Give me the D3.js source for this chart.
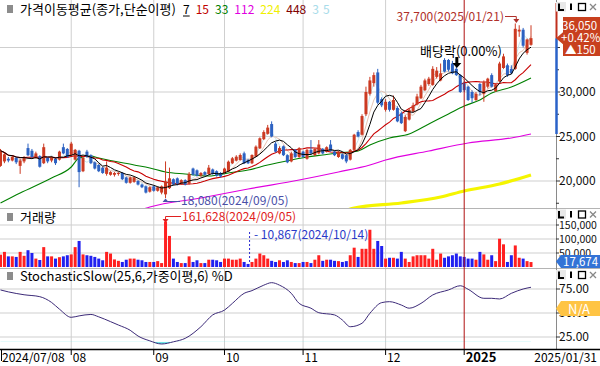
<!DOCTYPE html>
<html><head><meta charset="utf-8">
<script src="https://cdn.jsdelivr.net/npm/d3@7/dist/d3.min.js"></script>
<style>
html,body{margin:0;padding:0;background:#fff;overflow:hidden}
svg{display:block}
text{font-family:"Noto Sans CJK KR","Noto Sans",sans-serif}
</style></head><body>
<svg id="chart" width="600" height="366"></svg>
<script>
// ---------- DATA ----------
const jul=[8,9,10,11,12,15,16,17,18,19,22,23,24,25,26,29,30,31];
const aug=[1,2,5,6,7,8,9,12,13,14,16,19,20,21,22,23,26,27,28,29,30];
const sep=[2,3,4,5,6,9,10,11,12,13,19,20,23,24,25,26,27,30];
const oct=[2,4,7,8,10,11,14,15,16,17,18,21,22,23,24,25,28,29,30,31];
const nov=[1,4,5,6,7,8,11,12,13,14,15,18,19,20,21,22,25,26,27,28,29];
const dec=[2,3,4,5,6,9,10,11,12,13,16,17,18,19,20,23,24,26,27,30];
const jan=[2,3,6,7,8,9,10,13,14,15,16,17,20,21,22,23,24,31];
const monthList=[["2024","07",jul],["2024","08",aug],["2024","09",sep],["2024","10",oct],["2024","11",nov],["2024","12",dec],["2025","01",jan]];

const open=[21700,22200,22500,22300,22600,21700,22200,23700,23400,22700,22800,22000,22600,22300,22500,22400,23800,23600,
22900,22400,23400,21100,23300,22900,22100,21800,21500,20800,20700,20700,20800,20900,20400,19800,19900,20000,19600,19400,18800,
19400,18900,18700,18500,19200,20200,20300,19700,20100,19700,21400,21200,20600,21000,20800,21300,21100,20900,
20900,21050,21990,22290,22360,23110,22360,21990,22730,23670,24700,25300,26400,24200,23100,23900,22900,22200,23500,22700,
23300,22500,23500,22900,23100,23600,23300,24100,23300,22700,23000,22900,22400,23500,25500,25200,27500,29800,31000,32200,29200,
28000,28900,28000,28200,27600,25600,26900,27800,28600,29300,30200,30900,30800,31700,31300,33600,33600,33200,32600,31900,
31000,30600,30000,29100,30900,29800,30600,31900,30100,31200,32700,33000,32600,32600,36800,37000,34400,35300];
const high=[23600,23200,22700,22800,22700,22500,22800,24200,23600,23300,22900,24200,22700,22800,22600,23400,24200,23700,
24400,23600,23500,22800,23500,23000,22200,21900,21600,22200,21100,21000,21000,21000,20500,20500,20500,20100,19700,19500,19400,
19500,19400,19500,22200,21500,20300,20400,20200,20200,21000,21500,21300,21000,21100,21800,21400,21200,21000,
21500,22300,22700,22900,23100,23300,22500,23000,24000,24900,25700,26300,26700,24400,23900,24000,23000,23300,23600,23800,
23400,23600,24600,23700,24600,23700,23900,24600,23400,23400,23100,23000,23600,25300,25700,27500,30600,31700,32200,32600,29400,
29200,29000,29600,28400,27800,27400,28200,28800,29800,30800,31500,31700,32900,32800,33200,33800,33700,33500,32800,32000,
31200,30700,30200,30000,31000,31300,31600,32100,31000,33400,34300,33200,33000,37700,37500,37200,36000,37500];
const low=[21600,22000,22100,22200,21900,20800,22000,22800,22600,22500,21500,21900,22000,22100,21800,22300,23000,22600,
22800,22300,19300,21000,22600,21900,21300,21000,20800,20600,20600,20500,20600,20100,19700,19700,19800,19500,19200,18600,18700,
18800,18800,18500,18080,19100,19500,19500,19600,19500,19600,20600,20500,20500,20600,20700,20700,20500,20400,
20800,21000,21900,22200,22300,21900,21900,21900,22700,23600,24600,25200,24900,23200,23000,22800,22000,22100,22600,22600,
22600,22400,23000,22800,23000,23000,23200,23300,22800,22600,22400,22000,22300,23400,24900,25100,27300,29600,30600,28600,28300,
27800,27800,27900,26600,26400,25500,26800,27700,28500,29200,30100,30700,30700,31500,31200,32200,32300,32000,31800,29900,
30000,29000,28800,29000,29600,28900,30400,30500,30000,31100,32600,31700,32000,32500,36200,35000,34200,35200];
const close=[23400,23000,22300,22700,22100,22300,22600,22900,22700,23100,21600,23800,22200,22700,22000,23300,23100,22700,
24200,23500,21000,22600,22700,22000,21400,21100,20900,21500,21000,20900,20900,20200,19800,20400,20400,19600,19300,18700,19300,
18900,19300,19400,19950,20300,19600,19700,20100,19600,20800,20700,20600,20900,20700,21500,20800,20600,20500,
21400,22170,22550,22730,22920,21990,21990,22920,23860,24800,25500,26000,25000,23300,23700,22900,22100,23100,22700,23700,
22700,23500,23100,23600,24100,23100,23800,23400,22900,23300,22500,22200,23500,25200,25000,27300,30000,31300,31900,28800,28500,
28900,28000,29100,26700,26500,27200,28000,28500,29500,30600,31300,31500,32600,32400,32100,32300,32500,32100,31900,30000,
30200,29100,29300,29800,30000,31100,31500,30600,30800,33200,34000,31900,32100,37100,37000,35200,35900,36050];
const volume=[44000,54000,38000,38000,36000,54000,40000,60000,50000,30000,25000,71000,38000,38000,30000,35000,38000,42000,
45000,71000,93000,45000,42000,40000,36000,30000,24000,54000,48000,27000,22000,18000,26000,30000,30000,26000,24000,18000,18000,
18000,21000,14000,161628,111000,30000,18000,14000,14000,38000,18000,24000,14000,14000,26000,26000,24000,18000,
30000,30000,26000,26000,30000,18000,10867,18000,30000,48000,42000,30000,22000,18000,24000,18000,24000,18000,14000,14000,
18000,18000,14000,26000,42000,22000,26000,26000,22000,21000,18000,21000,42000,69000,36000,65000,65000,133000,65000,93000,75000,
30000,33000,33000,30000,54000,30000,18000,38000,42000,42000,42000,30000,65000,26000,48000,33000,38000,42000,48000,38000,
36000,30000,30000,26000,54000,45000,26000,42000,21000,101000,81000,18000,42000,77000,33000,30000,21000,17674];

// moving averages: [bar index, value]
const ma33=[[0,17528],[5,18652],[13,20337],[18,21573],[20,22584],[23,22809],[25,22584],[34,21798],[38,21461],[42,21011],[47,20787],[53,20562],[58,20899],[63,21236],[68,21798],[74,22360],[78,22697],[82,22921],[86,23146],[91,23371],[94,24045],[99,24831],[104,25281],[109,26405],[114,27528],[118,28427],[122,29101],[125,29888],[130,30562],[135,31573]];
const ma112=[[36,16800],[38,17079],[51,18090],[63,19101],[76,20112],[86,21011],[94,21798],[98,22360],[109,23371],[119,24270],[130,24831],[135,25281]];
const ma224=[[88,16700],[90,16966],[102,17528],[112,18202],[118,18877],[127,19663],[135,20674]];
// Stochastic Slow %D: [bar index, value]
const stochD=[[0,74],[2,72],[6,69],[10,67],[13,61],[15,54],[18,45.5],[20,47],[23,48.5],[25,46],[28,41],[30,37.5],[33,32],[35,26],[38,21],[41,17.7],[44,20],[47,23.6],[51,35.7],[54,48],[57,53],[59,60],[62,70.5],[64,73.3],[67,79],[69,81.6],[71,79],[74,70.5],[76,60],[79,55],[81,50.3],[85,48],[87,42.7],[89,35.7],[92,39.3],[94,49.7],[97,60.8],[99,61.8],[102,58.3],[104,55],[107,60],[110,68.8],[114,74],[117,78.4],[119,74.7],[123,65.3],[125,65.3],[127,64.6],[130,70.5],[133,75],[135,76.8]];

const priceTicks=[20000,25000,30000,35000];
const priceLabels=[20000,25000,30000];
const priceMinor=[17500,22500,27500,32500];
const volTicks=[50000,100000,150000];
const stochTicks=[25,50,75];
const maLegend=[["7","#000"],["15","#c00000"],["33","#008000"],["112","#e000e0"],["224","#f0f000"],["448","#800000"],["3","#a8dcea"],["5","#a8dcea"]];

// ---------- BUILD ----------
const dates=[];
monthList.forEach(([y,m,ds])=>ds.forEach(d=>dates.push(`${y}/${m}/${String(d).padStart(2,"0")}`)));
const N=dates.length;
const svg=d3.select("#chart");
const fmt=d3.format(",");
const PR=556;
const P={main:[0,208],vol:[209,268],sto:[269,349]};

const x=d3.scalePoint().domain(dates).range([0.5,531]);
const xi=i=>x(dates[i]);
const yP=d3.scaleLinear().domain([20000,30000]).range([181,92]);
const yV=d3.scaleLinear().domain([0,150000]).range([267,225]);
const yS=d3.scaleLinear().domain([25,75]).range([337,289]);

const defs=svg.append("defs");
Object.entries(P).forEach(([k,[a,b]])=>{
  defs.append("clipPath").attr("id","clip-"+k).append("rect").attr("x",0).attr("y",a).attr("width",PR).attr("height",b-a);
});
defs.append("clipPath").attr("id","clip-os").append("rect").attr("x",0).attr("y",yS(20)).attr("width",PR).attr("height",349-yS(20));

const monthStarts=[];
for(let i=1;i<N;i++){ if(dates[i].slice(5,7)!==dates[i-1].slice(5,7)) monthStarts.push(i); }

const grid=svg.append("g");
monthStarts.forEach(i=>{
  const isYear=dates[i].slice(0,4)!==dates[i-1].slice(0,4);
  if(!isYear) grid.append("line").attr("x1",xi(i)).attr("x2",xi(i)).attr("y1",0).attr("y2",349).attr("stroke","#cfcfcf");
});
priceTicks.forEach(v=>grid.append("line").attr("x1",0).attr("x2",PR).attr("y1",yP(v)).attr("y2",yP(v)).attr("stroke","#cfcfcf"));
volTicks.forEach(v=>grid.append("line").attr("x1",0).attr("x2",PR).attr("y1",yV(v)).attr("y2",yV(v)).attr("stroke","#cfcfcf"));
stochTicks.forEach(v=>grid.append("line").attr("x1",0).attr("x2",PR).attr("y1",yS(v)).attr("y2",yS(v)).attr("stroke","#cfcfcf"));

[208.5,268.5].forEach(y=>svg.append("line").attr("x1",0).attr("x2",600).attr("y1",y).attr("y2",y).attr("stroke","#b4b4b4"));

// ---------- MAIN PANEL ----------
const gm=svg.append("g").attr("clip-path","url(#clip-main)");
function sma(arr,n){return arr.map((_,i)=>d3.mean(arr.slice(Math.max(0,i-n+1),i+1)));}
const lineIdx=d3.line().x((d,i)=>xi(i)).y(d=>yP(d));
const lineSamp=d3.line().x(d=>xi(d[0])).y(d=>yP(d[1])).curve(d3.curveMonotoneX);

gm.append("path").attr("d",lineIdx(sma(close,3))).attr("fill","none").attr("stroke","#c8e6ee").attr("stroke-width",1);
gm.append("path").attr("d",lineIdx(sma(close,5))).attr("fill","none").attr("stroke","#e6c4b4").attr("stroke-width",1);
gm.append("path").attr("d",lineSamp(ma224)).attr("fill","none").attr("stroke","#f5f500").attr("stroke-width",3.2);
gm.append("path").attr("d",lineSamp(ma112)).attr("fill","none").attr("stroke","#e000e0").attr("stroke-width",1.2);
gm.append("path").attr("d",lineSamp(ma33)).attr("fill","none").attr("stroke","#008000").attr("stroke-width",1.1);
gm.append("path").attr("d",lineIdx(sma(close,15))).attr("fill","none").attr("stroke","#c80000").attr("stroke-width",1.1);

const upC="#cc3a22", dnC="#2d62c2";
const cg=gm.append("g");
d3.range(N).forEach(i=>{
  const up=close[i]>=open[i]; const col=up?upC:dnC;
  cg.append("line").attr("x1",xi(i)).attr("x2",xi(i)).attr("y1",yP(high[i])).attr("y2",yP(low[i])).attr("stroke",col).attr("stroke-width",1);
  const y1=yP(Math.max(open[i],close[i])), y2=yP(Math.min(open[i],close[i]));
  cg.append("rect").attr("x",xi(i)-1.5).attr("width",3).attr("y",y1).attr("height",Math.max(1,y2-y1)).attr("fill",col);
});
gm.append("path").attr("d",lineIdx(sma(close,7))).attr("fill","none").attr("stroke","#000").attr("stroke-width",1);

// annotations main
const iMax=d3.maxIndex(high), iMin=d3.minIndex(low);
const ann=svg.append("g");
ann.append("text").attr("x",504).attr("y",21).attr("text-anchor","end").attr("font-size",12).attr("fill","#b0302a")
  .text(`${fmt(high[iMax])}(${dates[iMax]})`);
ann.append("path").attr("d",`M505,16.5H${xi(iMax)+1}V21`).attr("fill","none").attr("stroke","#b0302a");
ann.append("path").attr("d",`M${xi(iMax)-2},19L${xi(iMax)+1},23L${xi(iMax)+4},19Z`).attr("fill","#b0302a");

ann.append("text").attr("x",181).attr("y",205).attr("font-size",12).attr("fill","#4a50a8")
  .text(`${fmt(low[iMin])}(${dates[iMin]})`);
ann.append("path").attr("d",`M${xi(iMin)},200V201.5H180`).attr("fill","none").attr("stroke","#4a50a8");
ann.append("path").attr("d",`M${xi(iMin)-3},202L${xi(iMin)},198.5L${xi(iMin)+3},202Z`).attr("fill","#4a50a8");

const iDiv=dates.indexOf("2024/12/27");
ann.append("text").attr("x",420).attr("y",56).attr("font-size",13).attr("fill","#000").text("배당락(0.00%)");
ann.append("path").attr("d",`M${xi(iDiv)-1},57h3v6h3l-4.5,5l-4.5,-5h3z`).attr("fill","#000");

// ---------- VOLUME ----------
const gv=svg.append("g").attr("clip-path","url(#clip-vol)");
d3.range(N).forEach(i=>{
  const up=close[i]>=open[i];
  gv.append("rect").attr("x",xi(i)-1.5).attr("width",3).attr("y",yV(volume[i])).attr("height",yV(0)-yV(volume[i]))
    .attr("fill",up?"#ff2020":"#2020f0");
});
const vMax=d3.maxIndex(volume), vMin=d3.minIndex(volume);
ann.append("text").attr("x",182).attr("y",221).attr("font-size",12).attr("fill","#e02020").text(`${fmt(volume[vMax])}(${dates[vMax]})`);
ann.append("path").attr("d",`M181,216.5H${xi(vMax)}V220`).attr("fill","none").attr("stroke","#e02020");
ann.append("path").attr("d",`M${xi(vMax)-3},219L${xi(vMax)},223L${xi(vMax)+3},219Z`).attr("fill","#e02020");
ann.append("line").attr("x1",xi(vMin)+1.5).attr("x2",xi(vMin)+1.5).attr("y1",232).attr("y2",yV(volume[vMin])).attr("stroke","#2a2ad0").attr("stroke-dasharray","2,2");
ann.append("text").attr("x",254).attr("y",239).attr("font-size",12).attr("fill","#2a3ac8").text(`- ${fmt(volume[vMin])}(${dates[vMin]})`);

// ---------- STOCHASTIC ----------
const gs=svg.append("g").attr("clip-path","url(#clip-sto)");
const sLine=d3.line().x(d=>xi(d[0])).y(d=>yS(d[1])).curve(d3.curveMonotoneX);
const sArea=d3.area().x(d=>xi(d[0])).y0(yS(20)).y1(d=>yS(d[1])).curve(d3.curveMonotoneX);
gs.append("path").attr("d",sArea(stochD)).attr("fill","#70e6e6").attr("clip-path","url(#clip-os)");
gs.append("path").attr("d",sLine(stochD)).attr("fill","none").attr("stroke","#3c2a78").attr("stroke-width",1);

const iYear=monthStarts.find(i=>dates[i].slice(0,4)!==dates[i-1].slice(0,4));
svg.append("line").attr("x1",xi(iYear)).attr("x2",xi(iYear)).attr("y1",0).attr("y2",349).attr("stroke","#b01010");

// ---------- TITLES ----------
function title(y,txt){
  svg.append("rect").attr("x",7).attr("y",y-9).attr("width",6).attr("height",8).attr("fill","#8c8c8c");
  return svg.append("text").attr("x",20).attr("y",y).attr("font-size",13).attr("fill","#000").text(txt);
}
title(14,"가격이동평균(종가,단순이평)");
let lx=183;
const leg=svg.append("g");
maLegend.forEach(([t,c],k)=>{
  const tt=leg.append("text").attr("x",lx).attr("y",14).attr("font-size",12).attr("fill",c).text(t);
  const w=tt.node().getComputedTextLength();
  if(k===0) leg.append("line").attr("x1",lx).attr("x2",lx+w).attr("y1",16).attr("y2",16).attr("stroke","#000");
  lx+=w+(k>=6?4:6);
});
title(222,"거래량");
title(281,"StochasticSlow(25,6,가중이평,6) %D");

// ---------- RIGHT AXES ----------
const ax=svg.append("g");
ax.append("line").attr("x1",PR+0.5).attr("x2",PR+0.5).attr("y1",0).attr("y2",349).attr("stroke","#8a8a8a");
function rTick(y,label,len,fs){
  ax.append("line").attr("x1",PR).attr("x2",PR+len).attr("y1",y).attr("y2",y).attr("stroke","#333");
  if(label) ax.append("text").attr("x",PR+3).attr("y",y+4).attr("font-size",fs||11.5).attr("fill","#111").text(label);
}
priceTicks.forEach(v=>rTick(yP(v),priceLabels.includes(v)?fmt(v):null,4,12));
priceMinor.forEach(v=>rTick(yP(v),null,3));
volTicks.forEach(v=>rTick(yV(v),fmt(v),3,10.5));
stochTicks.forEach(v=>rTick(yS(v),d3.format(".2f")(v),4,12));

const last=N-1;
ax.append("line").attr("x1",PR+0.5).attr("x2",PR+0.5).attr("y1",3).attr("y2",yP(close[last])).attr("stroke","#c0301e").attr("stroke-width",2);
ax.append("line").attr("x1",PR+0.5).attr("x2",PR+0.5).attr("y1",yP(close[last])).attr("y2",yP(ma112[ma112.length-1][1])).attr("stroke","#2a62c8").attr("stroke-width",2.5);

// price box (one text, three lines)
const yc=yP(close[last]);
ax.append("path").attr("d",`M563,17H600V56H563V${yc+6}L556,${yc}L563,${yc-6}Z`).attr("fill","#c8401e");
const chg=close[last]-close[last-1], pct=chg/close[last-1]*100;
const pb=ax.append("text").attr("font-size",11.5).attr("fill","#fff");
pb.append("tspan").attr("x",562).attr("y",29.5).text(fmt(close[last]));
pb.append("tspan").attr("x",561).attr("y",41.5).text((chg>=0?"+":"")+pct.toFixed(2)+"%");
pb.append("tspan").attr("x",565).attr("y",53.5).text("▲"+fmt(Math.abs(chg)));

// volume box
ax.append("path").attr("d",`M561,255H600V268H561L556,261.5Z`).attr("fill","#3373d6");
ax.append("text").attr("x",563).attr("y",266).attr("font-size",11.5).attr("fill","#fff").text(fmt(volume[last]));
// stochastic N/A box
ax.append("path").attr("d",`M561,301H600V316H561L556,308.5Z`).attr("fill","#ffc444");
ax.append("text").attr("x",579).attr("y",313.5).attr("text-anchor","middle").attr("font-size",13).attr("fill","#fff").text("N/A");

// panel buttons (drawn as icons)
[2,209.5,270].forEach(y=>{
  const b=svg.append("g").attr("fill","none");
  b.append("rect").attr("x",556).attr("y",y).attr("width",10).attr("height",9.5).attr("fill","#e8e8e8");
  b.append("path").attr("d",`M559,${y+1.5}V${y+8}H564`).attr("stroke","#000").attr("stroke-width",2);
  b.append("path").attr("d",`M571,${y+1.5}V${y+8}`).attr("stroke","#000").attr("stroke-width",2);
  b.append("rect").attr("x",578.5).attr("y",y+1.5).attr("width",7).attr("height",7).attr("stroke","#000").attr("stroke-width",1.3);
  b.append("path").attr("d",`M590,${y+2}L596,${y+8}M596,${y+2}L590,${y+8}`).attr("stroke","#888").attr("stroke-width",1.3);
});

// ---------- X AXIS ----------
const xa=svg.append("g");
xa.append("line").attr("x1",0).attr("x2",600).attr("y1",349.5).attr("y2",349.5).attr("stroke","#000").attr("stroke-width",1.5);
xa.append("line").attr("x1",1.5).attr("x2",1.5).attr("y1",349).attr("y2",361).attr("stroke","#000");
xa.append("text").attr("x",2).attr("y",362).attr("font-size",12).attr("fill","#000").text(dates[0]);
monthStarts.forEach(i=>{
  const isYear=dates[i].slice(0,4)!==dates[i-1].slice(0,4);
  xa.append("line").attr("x1",xi(i)).attr("x2",xi(i)).attr("y1",349).attr("y2",355).attr("stroke","#000");
  xa.append("text").attr("x",xi(i)+1.5).attr("y",362).attr("font-size",isYear?13:12).attr("font-weight",isYear?"bold":"normal")
    .attr("fill","#000").text(isYear?dates[i].slice(0,4):dates[i].slice(5,7));
});
xa.append("text").attr("x",597).attr("y",362).attr("text-anchor","end").attr("font-size",12).attr("fill","#000").text("2025/01/31");
</script></body></html>
